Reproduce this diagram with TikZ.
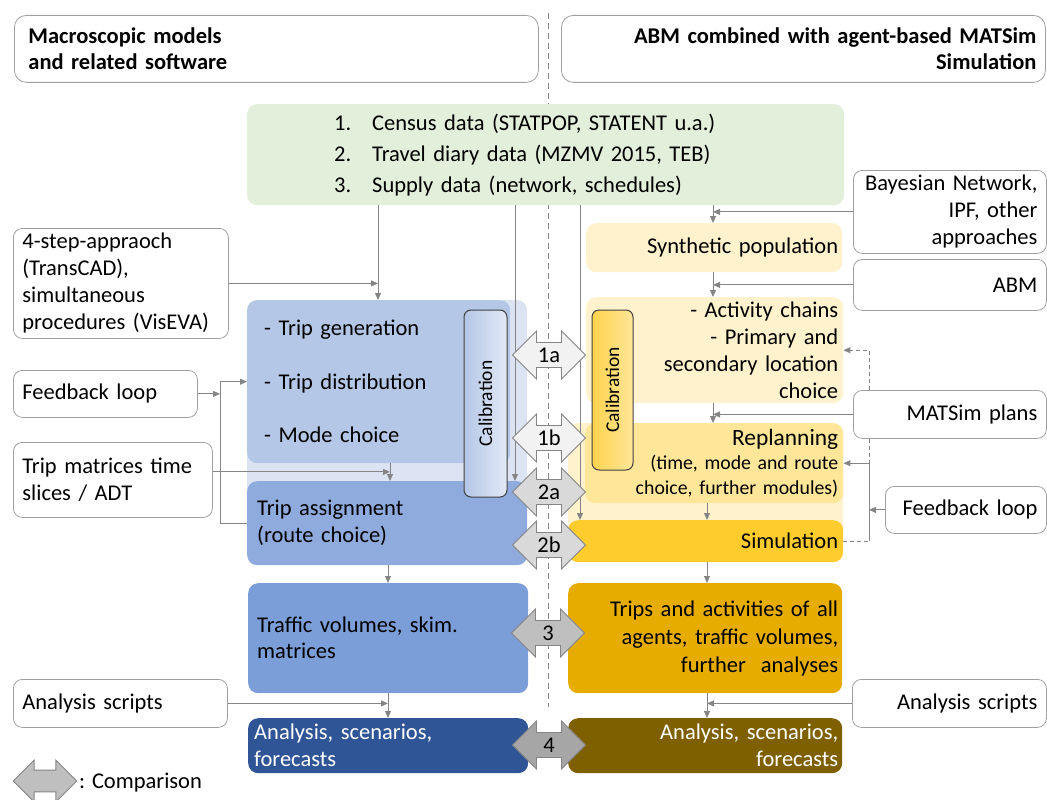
\documentclass[tikz,border=0pt]{standalone}
\usepackage{fontspec}
\setmainfont{Carlito}
\usetikzlibrary{arrows.meta}

\definecolor{datagreen}{HTML}{E2EFDA}
\definecolor{macroback}{HTML}{DCE4F3}
\definecolor{macrostep}{HTML}{B4C7E7}
\definecolor{macroassign}{HTML}{8FAADC}
\definecolor{macrovol}{HTML}{7C9ED8}
\definecolor{macroout}{HTML}{2F5597}
\definecolor{abmlight}{HTML}{FFF2CC}
\definecolor{abmplan}{HTML}{FFE699}
\definecolor{abmsim}{HTML}{FFCC2E}
\definecolor{abmtrips}{HTML}{E6AD00}
\definecolor{abmout}{HTML}{7F6000}
\definecolor{linegray}{HTML}{858585}
\definecolor{boxgray}{HTML}{A0A0A0}
\definecolor{calgray}{HTML}{404040}
\definecolor{calblueA}{HTML}{E2E9F6}
\definecolor{calblueB}{HTML}{B4C7E7}
\definecolor{calyelA}{HTML}{FFE699}
\definecolor{calyelB}{HTML}{FFD34D}
\definecolor{cmpone}{HTML}{F2F2F2}
\definecolor{cmptwo}{HTML}{D9D9D9}
\definecolor{cmpthree}{HTML}{BFBFBF}
\definecolor{cmpfour}{HTML}{A6A6A6}

\begin{document}
\begin{tikzpicture}[x=1pt,y=-1pt,
  every node/.style={font=\fontsize{22.5}{27}\selectfont, inner ysep=0pt},
  note/.style={draw=boxgray, fill=white, line width=0.8pt, rounded corners=9pt,
    anchor=north west, inner xsep=9pt, inner ysep=0pt},
  stage/.style={rounded corners=10pt, anchor=north west, inner ysep=0pt},
  calib/.style={draw=calgray, line width=1pt, rounded corners=7pt, rotate=90,
    inner sep=0pt, font=\fontsize{19.5}{24}\selectfont},
  link/.style={draw=linegray, line width=1pt},
  conn/.style={link, -{Triangle[length=7pt,width=6pt]}},
  cmp/.pic={
    \path[draw=linegray, line width=0.8pt, pic actions]
      (-36.5,0) -- (-12.5,-24) -- (-12.5,-12.5) -- (12.5,-12.5) -- (12.5,-24)
      -- (36.5,0) -- (12.5,24) -- (12.5,12.5) -- (-12.5,12.5) -- (-12.5,24) -- cycle;
    \node[inner xsep=0pt] (-lbl) {\tikzpictext};
  }]
\useasboundingbox (0,0) rectangle (1047,800);

% divider between the two approaches
\draw[linegray, line width=0.8pt, dash pattern=on 6pt off 4pt] (548,13) -- (548,707);

% headers
\node[note, rounded corners=12pt, font=\bfseries\fontsize{22.5}{26}\selectfont,
  inner xsep=14pt, text width=496pt, minimum height=67pt, align=left] (headL) at (14,15)
  {Macroscopic models\\and related software};
\node[note, rounded corners=12pt, font=\bfseries\fontsize{22.5}{26}\selectfont,
  text width=466pt, minimum height=67pt, align=right] (headR) at (561,15)
  {ABM combined with agent-based MATSim\\Simulation};

% input data
\node[stage, fill=datagreen, inner xsep=87pt, text width=423pt, minimum height=101pt,
  align=left, font=\fontsize{22.5}{31}\selectfont] (data) at (247,104)
  {\makebox[38pt][l]{1.}Census data (STATPOP, STATENT u.a.)\\
   \makebox[38pt][l]{2.}Travel diary data (MZMV 2015, TEB)\\
   \makebox[38pt][l]{3.}Supply data (network, schedules)};

% side notes, left
\node[note, text width=197pt, minimum height=110pt, align=left] (steps) at (13,228)
  {4-step-appraoch\\(TransCAD),\\simultaneous\\procedures (VisEVA)};
\node[note, text width=166pt, minimum height=47pt, align=left] (fbL) at (13,370) {Feedback loop};
\node[note, text width=181pt, minimum height=75pt, align=left] (tripmat) at (13,442)
  {Trip matrices time\\slices / ADT};
\node[note, text width=196pt, minimum height=48pt, align=left] (scriptL) at (13,679) {Analysis scripts};

% side notes, right
\node[note, text width=175pt, minimum height=83pt, align=right] (bayes) at (853,170)
  {Bayesian Network,\\IPF, other\\approaches};
\node[note, text width=175pt, minimum height=51pt, align=right] (abm) at (853,259) {ABM};
\node[note, text width=175pt, minimum height=48pt, align=right] (matsim) at (853,390) {MATSim plans};
\node[note, text width=143pt, minimum height=47pt, align=right] (fbR) at (885,486) {Feedback loop};
\node[note, text width=176pt, minimum height=48pt, align=right] (scriptR) at (852,679) {Analysis scripts};

% macroscopic chain
\fill[macroback, rounded corners=10pt] (247,300) rectangle (527,520);
\node[stage, fill=macrostep, inner xsep=17pt, text width=229pt, minimum height=163pt,
  align=left, font=\fontsize{22.5}{53.5}\selectfont] (tripgen) at (247,300)
  {- Trip generation\\- Trip distribution\\- Mode choice};
\node[stage, fill=macroassign, inner xsep=10pt, text width=260pt, minimum height=84pt,
  align=left] (assign) at (247,481) {Trip assignment\\(route choice)};
\node[stage, fill=macrovol, inner xsep=9pt, text width=262pt, minimum height=110pt,
  align=left, font=\fontsize{22.5}{26}\selectfont] (traffic) at (248,583)
  {Traffic volumes, skim.\\matrices};
\node[stage, fill=macroout, text=white, inner xsep=6pt, text width=268pt, minimum height=55pt,
  align=left] (outL) at (248,718) {Analysis, scenarios,\\forecasts};

% agent-based chain
\node[stage, fill=abmlight, inner xsep=4pt, text width=248pt, minimum height=49pt,
  align=right] (synth) at (586,223) {Synthetic population};
\node[stage, fill=abmlight, inner xsep=5pt, text width=247pt, minimum height=106pt,
  align=right] (activity) at (586,297)
  {- Activity chains\\- Primary and\\secondary location\\choice};
\fill[abmlight, rounded corners=10pt] (568,423) rectangle (843,545);
\node[stage, fill=abmplan, inner xsep=5pt, text width=248pt, minimum height=80pt,
  align=right, font=\fontsize{19.8}{24.5}\selectfont] (replan) at (585,423)
  {{\fontsize{23.4}{25}\selectfont Replanning}\\(time, mode and route\\choice, further modules)};
\node[stage, fill=abmsim, inner xsep=5pt, text width=265pt, minimum height=42pt,
  align=right] (sim) at (568,520) {Simulation};
\node[stage, fill=abmtrips, inner xsep=4pt, text width=266pt, minimum height=110pt,
  align=right, font=\fontsize{22.5}{28}\selectfont] (trips) at (568,583)
  {Trips and activities of all\\agents, traffic volumes,\\further~ analyses};
\node[stage, fill=abmout, text=white, inner xsep=4pt, text width=266pt, minimum height=55pt,
  align=right] (outR) at (568,718) {Analysis, scenarios,\\forecasts};

% x positions of the vertical links
\coordinate (xL) at (378,0);
\coordinate (xM) at (390,0);
\coordinate (xB) at (388,0);
\coordinate (xA) at (515,0);
\coordinate (xS) at (580,0);
\coordinate (xR) at (713,0);
\coordinate (xT) at (707,0);
\coordinate (xF) at (869,0);
\coordinate (loopx) at (220,0);

% links, left
\draw[conn] (data.south -| xL) -- (tripgen.north -| xL);
\draw[conn] (steps.east) -- (steps.east -| xL);
\draw[conn] (assign.west) -| (loopx |- tripgen.west) -- (tripgen.west);
\draw[conn] (fbL.east) -- (fbL.east -| loopx);
\draw[conn] ([yshift=8pt]tripmat.east) -- ([yshift=8pt]tripmat.east -| xM);
\draw[conn] (tripgen.south -| xM) -- (assign.north -| xM);
\draw[conn] (assign.south -| xB) -- (traffic.north -| xB);
\draw[conn] (traffic.south -| xB) -- (outL.north -| xB);
\draw[conn] (scriptL.east) -- (scriptL.east -| xB);
\draw[conn] (data.south -| xA) -- (assign.north -| xA);
\draw[conn] (data.south -| xS) -- (sim.north -| xS);

% links, right
\draw[conn] (data.south -| xR) -- (synth.north -| xR);
\draw[conn] (bayes.west) -- (bayes.west -| xR);
\draw[conn] (synth.south -| xR) -- (activity.north -| xR);
\draw[conn] (abm.west) -- (abm.west -| xR);
\draw[conn] (activity.south -| xR) -- (replan.north -| xR);
\draw[conn] (matsim.west) -- (matsim.west -| xR);
\draw[conn, dash pattern=on 4pt off 3pt] (matsim.north -| xF) |- (activity.east);
\draw[link, dash pattern=on 4pt off 3pt] (sim.east) -- (sim.east -| xF);
\draw[conn] (sim.east -| xF) |- (replan.east);
\draw[link, dash pattern=on 4pt off 3pt] (matsim.south -| xF) -- (replan.east -| xF);
\draw[conn] (fbR.west) -- (fbR.west -| xF);
\draw[conn] (replan.south -| xT) -- (sim.north -| xT);
\draw[conn] (sim.south -| xT) -- (trips.north -| xT);
\draw[conn] (trips.south -| xT) -- (outR.north -| xT);
\draw[conn] (scriptR.west) -- (scriptR.west -| xT);

% calibration
\node[calib, left color=calblueB, right color=calblueA, minimum width=187pt,
  minimum height=43pt] (calL) at (485.5,403.5) {Calibration};
\node[calib, left color=calyelB, right color=calyelA, minimum width=160pt,
  minimum height=41pt] (calR) at (612.5,390) {Calibration};

% comparisons
\pic[fill=cmpone, pic text=1a] (c1a) at (549,355) {cmp};
\pic[fill=cmpone, pic text=1b] (c1b) at (549,438) {cmp};
\pic[fill=cmptwo, pic text=2a] (c2a) at (549,492) {cmp};
\pic[fill=cmptwo, pic text=2b] (c2b) at (549,545) {cmp};
\pic[fill=cmpthree, pic text=3] (c3) at (548,633) {cmp};
\pic[fill=cmpfour, pic text=4] (c4) at (549,745) {cmp};

% legend
\pic[fill=cmpthree, scale=0.87] (legend) at (45,781) {cmp};
\node[anchor=west, inner xsep=1pt] (legendtxt) at (78,783) {: Comparison};
\end{tikzpicture}
\end{document}
